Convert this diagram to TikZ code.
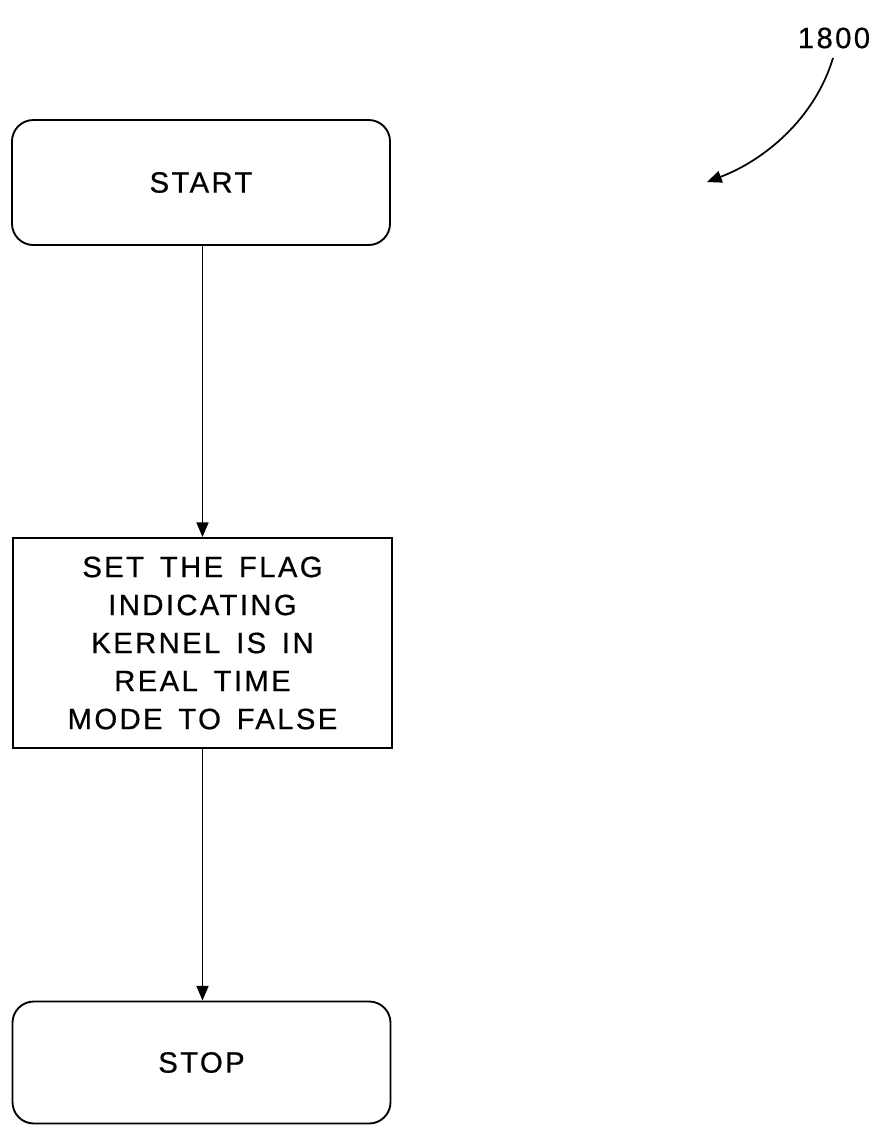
\documentclass[tikz,border=0pt]{standalone}
\usepackage{fontspec}
\setmainfont{Liberation Sans}[LetterSpace=8,WordSpace=1.5,FakeBold=0.6]
\usetikzlibrary{arrows.meta}
\begin{document}
\begin{tikzpicture}[x=0.75pt,y=-0.75pt,
  every node/.style={font=\fontsize{22}{28.5}\selectfont, align=center, inner sep=0pt},
  term/.style={draw, line width=1.4pt, rounded corners=16pt, minimum width=283.5pt},
  proc/.style={draw, line width=1.4pt, minimum width=284pt},
  conn/.style={line width=1.3pt, -{Triangle[length=11pt,width=9pt]}}]
\useasboundingbox (0,0) rectangle (877,1125);
\node[term, minimum height=93.75pt] (start) at (201,182.5) {START};
\node[proc, minimum height=157.5pt] (set) at (202.5,643) {SET THE FLAG\\INDICATING\\KERNEL IS IN\\REAL TIME\\MODE TO FALSE};
\node[term, minimum height=91.5pt] (stop) at (201.5,1062.5) {STOP};
\draw[conn] (start.south -| set.north) -- (set.north);
\draw[conn] (set.south) -- (set.south |- stop.north);
\node (lbl) at (834,38) {1800};
\coordinate (ctail) at (833,58);
\coordinate (chead) at (707,182);
\draw[conn] (ctail) .. controls (815,118) and (765,160) .. (chead);
\end{tikzpicture}
\end{document}
